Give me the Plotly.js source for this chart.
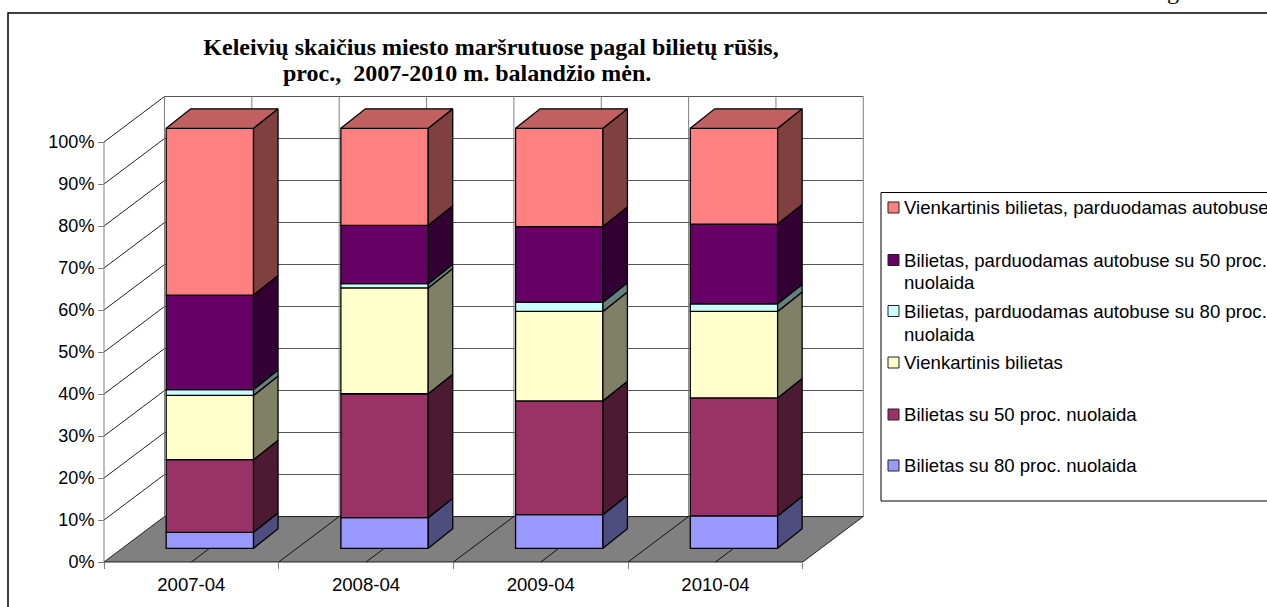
<!DOCTYPE html>
<html>
<head>
<meta charset="utf-8">
<script src="https://cdn.plot.ly/plotly-3.0.1.min.js"></script>
<style>html,body{margin:0;padding:0;background:#fff;overflow:hidden}#chart{width:1267px;height:607px}</style>
</head>
<body>
<div id="chart"></div>
<script>
// ---- data ----
const categories = ['2007-04', '2008-04', '2009-04', '2010-04'];
const seriesNames = [
  'Bilietas su 80 proc. nuolaida',
  'Bilietas su 50 proc. nuolaida',
  'Vienkartinis bilietas',
  'Bilietas, parduodamas autobuse su 80 proc.<br>nuolaida',
  'Bilietas, parduodamas autobuse su 50 proc.<br>nuolaida',
  'Vienkartinis bilietas, parduodamas autobuse'
];
const bilietas80 = [3.8, 7.3, 8.0, 7.7];
const bilietas50 = [17.3, 29.5, 27.1, 28.1];
const vienkartinis = [15.3, 25.2, 21.3, 20.6];
const autobuse80 = [1.4, 1.0, 2.2, 1.8];
const autobuse50 = [22.5, 13.9, 18.0, 19.0];
const vienkartinisAutobuse = [39.7, 23.1, 23.4, 22.8];
const seriesValues = [bilietas80, bilietas50, vienkartinis, autobuse80, autobuse50, vienkartinisAutobuse];
const frontColors = ['#9999FF', '#993366', '#FFFFCC', '#CCFFFF', '#660066', '#FF8080'];
const sideColors = ['#4D4D80', '#4D1A33', '#808066', '#668080', '#330033', '#804040'];
const topColor = '#C06060';
const yTicks = [0, 10, 20, 30, 40, 50, 60, 70, 80, 90, 100];
const titleLines = ['Keleivių skaičius miesto maršrutuose pagal bilietų rūšis,', 'proc.,\u00A0 2007-2010 m. balandžio mėn.'];
const legendLineY = [[465.5], [414.5], [362.5], [311, 334], [260, 282], [207.5]];

// ---- layout constants (pixels) ----
const W = 1267, H = 607;
const X0 = 104, Y0 = 562, catPx = 174.7, pctPx = 4.2;
const wallDX = 60.5 / catPx, wallDY = 45.5 / pctPx;  // depth of the floor, in axis units
const barDX = 24.5 / catPx, barDY = 19.5 / pctPx;    // depth of a bar
const barFrontDX = 18.5 / catPx, barBase = 13.7 / pctPx;
const barWidth = 0.5;
const nCat = categories.length;
const gridColor = '#555555', wallColor = '#808080';

const px = v => v / W, py = v => 1 - v / H;
const shapes = [];
const lineShape = (x0, y0, x1, y1, color, width) => shapes.push({
  type: 'line', xref: 'x', yref: 'y', x0, y0, x1, y1, layer: 'below',
  line: {color, width: width || 1}
});
const poly = pts => 'M' + pts.map(p => p[0] + ',' + p[1]).join('L') + 'Z';
const areaShape = (pts, fill, lineColor, lw) => shapes.push({
  type: 'path', xref: 'x', yref: 'y', path: poly(pts), layer: 'below',
  fillcolor: fill, line: {color: lineColor, width: lw}
});

// walls and floor
areaShape([[0, 0], [wallDX, wallDY], [wallDX, 100 + wallDY], [0, 100]], '#FFFFFF', 'rgba(0,0,0,0)', 0);
areaShape([[wallDX, wallDY], [nCat + wallDX, wallDY], [nCat + wallDX, 100 + wallDY], [wallDX, 100 + wallDY]], '#FFFFFF', 'rgba(0,0,0,0)', 0);
yTicks.slice(1).forEach(t => {
  lineShape(0, t, wallDX, t + wallDY, '#222222');
  lineShape(wallDX, t + wallDY, nCat + wallDX, t + wallDY, gridColor);
});
for (let k = 0; k <= nCat * 2; k++) {
  lineShape(wallDX + k / 2, wallDY, wallDX + k / 2, 100 + wallDY, wallColor, 1);
}
lineShape(0, 0, 0, 100, wallColor, 1);
areaShape([[0, 0], [nCat, 0], [nCat + wallDX, wallDY], [wallDX, wallDY]], '#808080', '#222222', 1);
for (let k = 1; k < nCat * 2; k++) {
  lineShape(k / 2, 0, k / 2 + wallDX, wallDY, '#111111', 1);
}

const traces = [];
const cumulative = categories.map(() => 0);
const xFront = categories.map((c, i) => i + 0.5 + barFrontDX);
const sideTraces = [];
seriesValues.forEach((vals, s) => {
  const bases = vals.map((v, i) => barBase + cumulative[i]);
  traces.push({
    type: 'bar', name: seriesNames[s].replace('<br>', ' '), x: xFront, y: vals, base: bases, width: barWidth,
    marker: {color: frontColors[s], line: {color: '#000000', width: 1.3}}, showlegend: false, hoverinfo: 'skip'
  });
  vals.forEach((v, i) => {
    const xr = xFront[i] + barWidth / 2, b = bases[i], t = bases[i] + v;
    sideTraces.push({
      type: 'scatter', mode: 'lines', fill: 'toself', fillcolor: sideColors[s],
      x: [xr, xr + barDX, xr + barDX, xr, xr], y: [b, b + barDY, t + barDY, t, b],
      line: {color: '#000000', width: 1.3}, showlegend: false, hoverinfo: 'skip'
    });
    if (s === seriesValues.length - 1) {
      const xl = xFront[i] - barWidth / 2;
      sideTraces.push({
        type: 'scatter', mode: 'lines', fill: 'toself', fillcolor: topColor,
        x: [xl, xr, xr + barDX, xl + barDX, xl], y: [t, t, t + barDY, t + barDY, t],
        line: {color: '#000000', width: 1.3}, showlegend: false, hoverinfo: 'skip'
      });
    }
    cumulative[i] += v;
  });
});

// frame and legend box
shapes.push({type: 'rect', xref: 'paper', yref: 'paper', x0: px(8), x1: px(W + 20), y0: py(13), y1: py(H + 20),
  line: {color: '#000000', width: 1.5}, fillcolor: 'rgba(0,0,0,0)', layer: 'below'});
shapes.push({type: 'rect', xref: 'paper', yref: 'paper', x0: px(881), x1: px(W + 20), y0: py(192.5), y1: py(501),
  line: {color: '#000000', width: 1}, fillcolor: '#FFFFFF', layer: 'above'});

const legendFont = 18.6;
const annotations = [];
seriesNames.forEach((n, s) => {
  const y0 = legendLineY[s][0];
  shapes.push({type: 'rect', xref: 'paper', yref: 'paper',
    x0: px(888), x1: px(899), y0: py(y0 - 5.5), y1: py(y0 + 5.5),
    fillcolor: frontColors[s], line: {color: '#222222', width: 1}, layer: 'above'});
  n.split('<br>').forEach((line, j) => annotations.push({
    xref: 'paper', yref: 'paper', x: px(902), y: py(legendLineY[s][j]), text: line, showarrow: false,
    xanchor: 'left', yanchor: 'middle', align: 'left',
    font: {family: 'Liberation Sans, Arial, sans-serif', size: legendFont, color: '#000000'}
  }));
});
// second line of the title (its centre sits left of the first line's)
annotations.push({xref: 'paper', yref: 'paper', x: px(467), y: py(73), text: titleLines[1], showarrow: false,
  xanchor: 'center', yanchor: 'middle',
  font: {family: 'Liberation Serif, Times New Roman, serif', size: 24, color: '#000000', weight: 'bold'}});
// cut-off letter of the page text above the frame
annotations.push({xref: 'paper', yref: 'paper', x: px(1173), y: py(-9), text: 'g', showarrow: false,
  xanchor: 'center', yanchor: 'middle',
  font: {family: 'Liberation Serif, Times New Roman, serif', size: 24, color: '#000000'}});

const layout = {
  width: W, height: H, margin: {l: 0, r: 0, t: 0, b: 0}, paper_bgcolor: '#FFFFFF', plot_bgcolor: 'rgba(0,0,0,0)',
  barmode: 'overlay', hovermode: false, showlegend: false,
  title: {
    text: titleLines[0],
    xref: 'paper', yref: 'paper', x: px(491), xanchor: 'center', y: py(47), yanchor: 'middle',
    font: {family: 'Liberation Serif, Times New Roman, serif', size: 24, color: '#000000', weight: 'bold'}
  },
  xaxis: {
    domain: [px(96), px(872)], range: [(96 - X0) / catPx, (872 - X0) / catPx],
    anchor: 'free', position: 1 - Y0 / H, tickmode: 'array',
    tickvals: categories.map((c, i) => i + 0.5), ticktext: categories, ticks: 'outside', ticklen: 6, tickcolor: 'rgba(0,0,0,0)',
    minor: {tickmode: 'array', tickvals: categories.map((c, i) => i).concat([nCat]), ticks: 'outside', ticklen: 6, tickcolor: wallColor, tickwidth: 1, showgrid: false},
    showgrid: false, zeroline: false, showline: false, fixedrange: true,
    tickfont: {family: 'Liberation Sans, Arial, sans-serif', size: 18.6, color: '#000000'}
  },
  yaxis: {
    domain: [py(572), py(90)], range: [(Y0 - 572) / pctPx, (Y0 - 90) / pctPx],
    anchor: 'free', position: X0 / W, tickmode: 'array', tickvals: yTicks, ticktext: yTicks.map(t => t + '%'),
    ticks: 'outside', ticklen: 6, tickcolor: wallColor, tickwidth: 1,
    showgrid: false, zeroline: false, showline: false, fixedrange: true,
    tickfont: {family: 'Liberation Sans, Arial, sans-serif', size: 18, color: '#000000'}
  },
  shapes, annotations
};
Plotly.newPlot('chart', traces.concat(sideTraces), layout, {displayModeBar: false, staticPlot: true});
</script>
</body>
</html>
